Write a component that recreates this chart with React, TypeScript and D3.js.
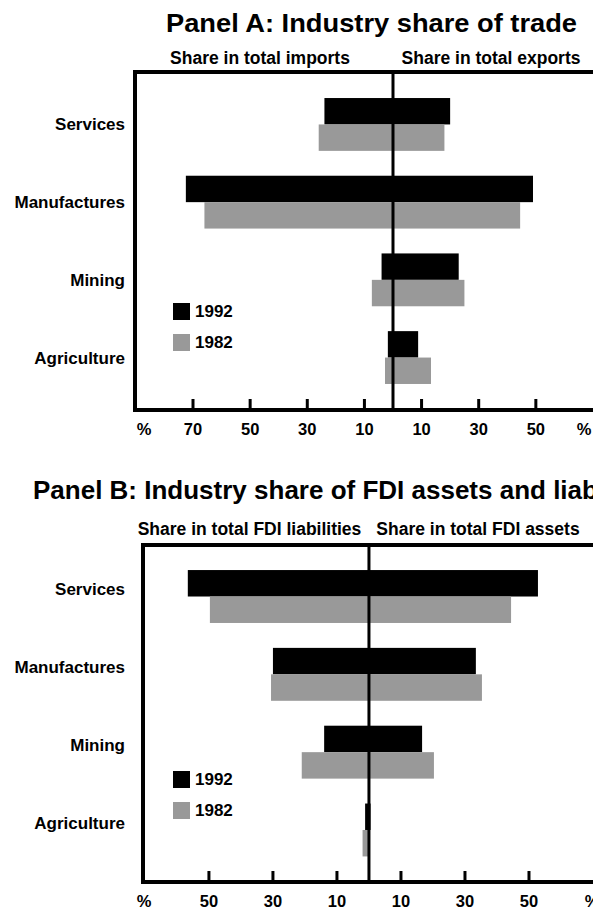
import React, { useEffect, useRef } from "react";
import * as d3 from "d3";

const categories = ["Services", "Manufactures", "Mining", "Agriculture"];
const years = ["1992", "1982"];

// panel A: share of trade (imports drawn to the left, exports to the right)
const tradeImports1992 = [24, 72.5, 4, 1.8];
const tradeExports1992 = [20, 49, 23, 8.8];
const tradeImports1982 = [26, 66, 7.4, 2.8];
const tradeExports1982 = [18, 44.5, 25, 13.3];

// panel B: share of FDI (liabilities left, assets right)
const fdiLiab1992 = [56.6, 30, 14, 1.2];
const fdiAssets1992 = [52.8, 33.4, 16.6, 0.5];
const fdiLiab1982 = [49.7, 30.6, 21, 2];
const fdiAssets1982 = [44.4, 35.3, 20.3, 0];

const tradeTicks = [70, 50, 30, 10, 10, 30, 50];
const fdiTicks = [50, 30, 10, 10, 30, 50];

const colors: Record<string, string> = { "1992": "#000000", "1982": "#999999" };
const font = "'Liberation Sans', Arial, sans-serif";

type PanelOpts = {
  title: string;
  titleX: number;
  titleAnchor: string;
  titleY: number;
  titleLen?: number;
  leftLabel: string;
  rightLabel: string;
  leftLabelX: number;
  rightLabelX: number;
  subY: number;
  xDomain: [number, number];
  xRange: [number, number];
  top: number;
  bottom: number;
  yRange: [number, number];
  ticks: number[];
  left: Record<string, number[]>;
  right: Record<string, number[]>;
  legendY: number;
  rightPctX: number;
  catShift: number;
};

const drawPanel = (svg: any, o: PanelOpts) => {
  const x = d3.scaleLinear().domain(o.xDomain).range(o.xRange);
  const y = d3
    .scaleBand()
    .domain(categories)
    .range(o.yRange)
    .paddingInner(0.32)
    .paddingOuter(0.16);
  const yy = d3.scaleBand().domain(years).range([0, y.bandwidth()]);
  const g = svg.append("g");

  const title = g
    .append("text")
    .attr("x", o.titleX)
    .attr("y", o.titleY)
    .attr("text-anchor", o.titleAnchor)
    .attr("font-size", 26)
    .attr("font-weight", "bold")
    .text(o.title);
  if (o.titleLen) title.attr("textLength", o.titleLen).attr("lengthAdjust", "spacingAndGlyphs");

  g.append("text")
    .attr("x", o.leftLabelX)
    .attr("y", o.subY)
    .attr("text-anchor", "middle")
    .attr("font-size", 17.5)
    .attr("font-weight", "bold")
    .text(o.leftLabel);
  g.append("text")
    .attr("x", o.rightLabelX)
    .attr("y", o.subY)
    .attr("text-anchor", "middle")
    .attr("font-size", 17.5)
    .attr("font-weight", "bold")
    .text(o.rightLabel);

  // bars
  const rows: any[] = [];
  years.forEach((yr) => {
    categories.forEach((c, i) => {
      rows.push({ cat: c, year: yr, l: o.left[yr][i], r: o.right[yr][i] });
    });
  });
  g.selectAll("rect.bar")
    .data(rows)
    .enter()
    .append("rect")
    .attr("class", "bar")
    .attr("x", (d: any) => x(-d.l))
    .attr("width", (d: any) => x(d.r) - x(-d.l))
    .attr("y", (d: any) => (y(d.cat) as number) + (yy(d.year) as number))
    .attr("height", yy.bandwidth())
    .attr("fill", (d: any) => colors[d.year]);

  // frame
  const x0 = o.xRange[0];
  g.append("path")
    .attr("d", `M${o.xRange[1] + 10},${o.top}H${x0}V${o.bottom}H${o.xRange[1] + 10}`)
    .attr("fill", "none")
    .attr("stroke", "#000")
    .attr("stroke-width", 4);
  g.append("line")
    .attr("x1", x(0))
    .attr("x2", x(0))
    .attr("y1", o.top)
    .attr("y2", o.bottom)
    .attr("stroke", "#000")
    .attr("stroke-width", 3);

  // ticks
  const tickVals = o.ticks.map((t, i) => (i < o.ticks.length / 2 ? -t : t));
  g.selectAll("line.tick")
    .data(tickVals)
    .enter()
    .append("line")
    .attr("class", "tick")
    .attr("x1", (d: number) => x(d))
    .attr("x2", (d: number) => x(d))
    .attr("y1", o.bottom - 11)
    .attr("y2", o.bottom)
    .attr("stroke", "#000")
    .attr("stroke-width", 3);
  g.selectAll("text.tick")
    .data(tickVals)
    .enter()
    .append("text")
    .attr("class", "tick")
    .attr("x", (d: number) => x(d))
    .attr("y", o.bottom + 25)
    .attr("text-anchor", "middle")
    .attr("font-size", 16.5)
    .attr("font-weight", "bold")
    .text((d: number) => Math.abs(d));
  g.append("text")
    .attr("x", 144)
    .attr("y", o.bottom + 25)
    .attr("text-anchor", "middle")
    .attr("font-size", 16.5)
    .attr("font-weight", "bold")
    .text("%");
  g.append("text")
    .attr("x", o.rightPctX)
    .attr("y", o.bottom + 25)
    .attr("text-anchor", "middle")
    .attr("font-size", 16.5)
    .attr("font-weight", "bold")
    .text("%");

  // category labels
  g.selectAll("text.cat")
    .data(categories)
    .enter()
    .append("text")
    .attr("class", "cat")
    .attr("x", 125)
    .attr("y", (d: string) => (y(d) as number) + y.bandwidth() / 2 + o.catShift)
    .attr("dy", "0.35em")
    .attr("text-anchor", "end")
    .attr("font-size", 17)
    .attr("font-weight", "bold")
    .text((d: string) => d);

  // legend
  years.forEach((yr, i) => {
    g.append("rect")
      .attr("x", 173)
      .attr("y", o.legendY + i * 31)
      .attr("width", 17)
      .attr("height", 17)
      .attr("fill", colors[yr]);
    g.append("text")
      .attr("x", 195)
      .attr("y", o.legendY + i * 31 + 8.5)
      .attr("dy", "0.35em")
      .attr("font-size", 17)
      .attr("font-weight", "bold")
      .text(yr);
  });
};

const App = () => {
  const ref = useRef<SVGSVGElement>(null);
  useEffect(() => {
    document.body.style.margin = "0";
    const svg = d3.select(ref.current);
    svg.selectAll("*").remove();
    svg.attr("font-family", font);

    drawPanel(svg, {
      title: "Panel A: Industry share of trade",
      titleX: 371.5,
      titleAnchor: "middle",
      titleY: 32,
      titleLen: 411,
      leftLabel: "Share in total imports",
      rightLabel: "Share in total exports",
      leftLabelX: 260,
      rightLabelX: 491,
      subY: 64,
      xDomain: [-90.3, 72],
      xRange: [135, 393 + 72 * 2.857],
      top: 72,
      bottom: 410,
      yRange: [85.6, 396.4],
      ticks: tradeTicks,
      left: { "1992": tradeImports1992, "1982": tradeImports1982 },
      right: { "1992": tradeExports1992, "1982": tradeExports1982 },
      legendY: 303,
      rightPctX: 584,
      catShift: 0,
    });

    drawPanel(svg, {
      title: "Panel B: Industry share of FDI assets and liabilities",
      titleX: 33,
      titleAnchor: "start",
      titleY: 499,
      leftLabel: "Share in total FDI liabilities",
      rightLabel: "Share in total FDI assets",
      leftLabelX: 249.5,
      rightLabelX: 478,
      subY: 535,
      xDomain: [-70.6, 72],
      xRange: [143, 369 + 72 * 3.2],
      top: 545,
      bottom: 882,
      yRange: [557.6, 868.9],
      ticks: fdiTicks,
      left: { "1992": fdiLiab1992, "1982": fdiLiab1982 },
      right: { "1992": fdiAssets1992, "1982": fdiAssets1982 },
      legendY: 771,
      rightPctX: 592,
      catShift: -7,
    });
  }, []);
  return <svg ref={ref} width={593} height={908} style={{ display: "block" }} />;
};

export default App;
